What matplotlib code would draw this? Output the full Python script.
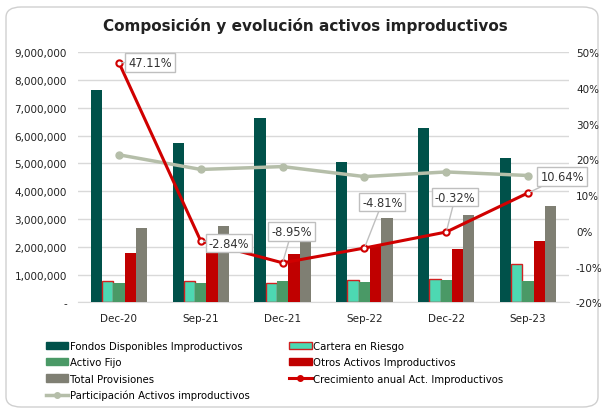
import numpy as np
import matplotlib
matplotlib.use("Agg")
import matplotlib.pyplot as plt
from matplotlib.patches import FancyBboxPatch, Patch
from matplotlib.lines import Line2D
from matplotlib.ticker import FuncFormatter

# data
periodos = ["Dec-20", "Sep-21", "Dec-21", "Sep-22", "Dec-22", "Sep-23"]
fondos = [7650000, 5750000, 6630000, 5060000, 6290000, 5190000]
cartera = [760000, 760000, 700000, 800000, 850000, 1390000]
activo_fijo = [680000, 680000, 770000, 730000, 790000, 760000]
otros = [1790000, 1860000, 1750000, 2030000, 1910000, 2200000]
provisiones = [2690000, 2750000, 2780000, 3030000, 3160000, 3470000]
crecimiento = [47.11, -2.84, -8.95, -4.81, -0.32, 10.64]
participacion = [21.3, 17.2, 18.0, 15.2, 16.5, 15.5]

# label offsets (pixels) for the growth labels
lbl_off = [(31, 0), (28, -2), (9, 31), (18, 46), (9, 35), (34, 16)]

c_fondos = "#00514A"
c_cartera = "#4DD8B2"
c_fijo = "#4A9966"
c_otros = "#C00000"
c_prov = "#7F7F73"
c_crec = "#D00000"
c_part = "#B5BEA9"

plt.rcParams["font.family"] = "DejaVu Sans"
fig = plt.figure(figsize=(6.04, 4.14), dpi=100)
W, H = 604, 414
ax = fig.add_axes([78 / W, 1 - 303.3 / H, 491 / W, 250 / H])
ax2 = ax.twinx()

fig.patches.append(FancyBboxPatch((6 / W, 6 / H), 592 / W, 400 / H,
                                  boxstyle="round,pad=0,rounding_size=0.025",
                                  transform=fig.transFigure, fc="white",
                                  ec="#D0D0D0", lw=1, zorder=-10))

x = np.arange(len(periodos))
bw = 0.138
series = [(fondos, c_fondos, c_fondos),
          (cartera, c_cartera, "#D02020"),
          (activo_fijo, c_fijo, c_fijo),
          (otros, c_otros, c_otros),
          (provisiones, c_prov, c_prov)]
for k, (vals, fc, ec) in enumerate(series):
    ax.bar(x + (k - 2) * bw, vals, width=bw, color=fc, edgecolor=ec,
           linewidth=1 if ec != fc else 0, zorder=3)

ax.set_xlim(-0.5, len(periodos) - 0.5)
ax.set_ylim(0, 9000000)
ax.set_yticks(np.arange(0, 9000001, 1000000))
ax.yaxis.set_major_formatter(FuncFormatter(lambda v, p: "-" if v == 0 else f"{int(v):,}"))
ax.grid(axis="y", color="#D9D9D9", lw=1, zorder=0)
ax.set_axisbelow(True)
ax.set_xticks(x)
ax.set_xticklabels(periodos)
for s in ["top", "left", "right"]:
    ax.spines[s].set_visible(False)
    ax2.spines[s].set_visible(False)
ax.spines["bottom"].set_color("#D9D9D9")
ax2.spines["bottom"].set_visible(False)
ax.tick_params(axis="both", length=0, labelsize=7.5, colors="#222222", pad=8)

ax2.plot(x, participacion, color=c_part, lw=2.5, marker="o", ms=5, zorder=4)
ax2.plot(x, crecimiento, color=c_crec, lw=2.2, marker="o", ms=4.5,
         mfc="white", mec=c_crec, mew=1.5, zorder=5)
ax2.set_ylim(-20, 50)
ax2.set_yticks(np.arange(-20, 51, 10))
ax2.yaxis.set_major_formatter(FuncFormatter(lambda v, p: f"{int(v)}%"))
ax2.tick_params(axis="y", length=0, labelsize=7.5, colors="#222222", pad=5)

for xi, v, (dx, dy) in zip(x, crecimiento, lbl_off):
    ax2.annotate(f"{v:.2f}%", (xi, v), xytext=(dx, dy), textcoords="offset pixels",
                 ha="center", va="center", fontsize=8.3, color="#333333",
                 bbox=dict(boxstyle="square,pad=0.25", fc="white", ec="#BFBFBF", lw=1),
                 arrowprops=dict(arrowstyle="-", color="#BFBFBF", lw=1, shrinkA=0, shrinkB=2),
                 zorder=6)

fig.text(0.505, 1 - 26 / H, "Composición y evolución activos improductivos",
         ha="center", va="center", fontsize=11, fontweight="bold", color="#222222")

handles = [Patch(fc=c_fondos, ec=c_fondos),
           Patch(fc=c_fijo, ec=c_fijo),
           Patch(fc=c_prov, ec=c_prov),
           Line2D([], [], color=c_part, lw=2.5, marker="o", ms=4),
           Patch(fc=c_cartera, ec="#D02020", lw=1),
           Patch(fc=c_otros, ec=c_otros),
           Line2D([], [], color=c_crec, lw=2.2, marker="o", ms=4)]
labels = ["Fondos Disponibles Improductivos", "Activo Fijo", "Total Provisiones",
          "Participación Activos improductivos", "Cartera en Riesgo",
          "Otros Activos Improductivos", "Crecimiento anual Act. Improductivos"]
fig.legend(handles, labels, ncol=2, loc="upper left", bbox_to_anchor=(46 / W, 1 - 342 / H),
           frameon=False, fontsize=7.3, handlelength=2.2, handleheight=0.7,
           handletextpad=0.15, labelspacing=0.62, columnspacing=3.9, borderaxespad=0,
           borderpad=0)

fig.savefig("out.png", dpi=100)
